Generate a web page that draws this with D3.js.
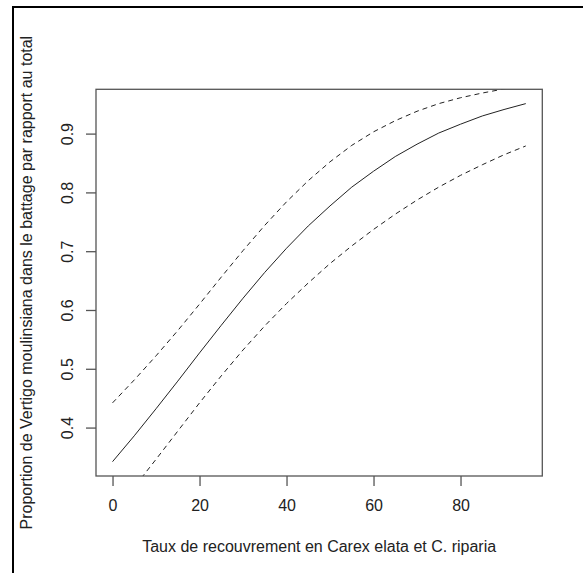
<!DOCTYPE html>
<html>
<head>
<meta charset="utf-8">
<script src="https://cdn.jsdelivr.net/npm/d3@7"></script>
<style>
  body { margin: 0; background: #fff; }
  svg { display: block; font-family: "Liberation Sans", Arial, sans-serif; }
</style>
</head>
<body>
<div id="chart"></div>
<script>
// values (cover %, predicted proportion and its band)
const cover = [0, 5, 10, 15, 20, 25, 30, 35, 40, 45, 50, 55, 60, 65, 70, 75, 80, 85, 90, 95];
const fitted = [0.342, 0.386, 0.432, 0.479, 0.527, 0.574, 0.620, 0.664, 0.705, 0.743,
                0.777, 0.809, 0.836, 0.861, 0.882, 0.901, 0.916, 0.930, 0.941, 0.951];
const upper = [0.442, 0.481, 0.522, 0.565, 0.610, 0.656, 0.701, 0.744, 0.784, 0.820,
               0.852, 0.880, 0.903, 0.922, 0.938, 0.951, 0.961, 0.969, 0.976, 0.981];
const lower = [0.255, 0.299, 0.346, 0.394, 0.442, 0.488, 0.532, 0.573, 0.611, 0.646,
               0.679, 0.709, 0.737, 0.763, 0.787, 0.809, 0.829, 0.847, 0.864, 0.879];
const xTicks = [0, 20, 40, 60, 80];
const yTicks = [0.4, 0.5, 0.6, 0.7, 0.8, 0.9];

const W = 583, H = 573;
const plot = { left: 96, right: 542.3, top: 89.3, bottom: 476 };

const svg = d3.select("#chart")
    .append("svg")
    .attr("width", W)
    .attr("height", H);

// R style 4% padding around the fitted line range
const xPad = (d3.max(cover) - d3.min(cover)) * 0.04;
const yPad = (d3.max(fitted) - d3.min(fitted)) * 0.04;

const x = d3.scaleLinear()
    .domain([d3.min(cover) - xPad, d3.max(cover) + xPad])
    .range([plot.left, plot.right]);

const y = d3.scaleLinear()
    .domain([d3.min(fitted) - yPad, d3.max(fitted) + yPad])
    .range([plot.bottom, plot.top]);

// frame of the screenshot: left and top edges only
svg.append("path")
    .attr("d", `M13,${H} L13,7 L${W},7`)
    .attr("fill", "none")
    .attr("stroke", "#000")
    .attr("stroke-width", 2);

svg.append("clipPath")
    .attr("id", "plot-clip")
    .append("rect")
    .attr("x", plot.left)
    .attr("y", plot.top)
    .attr("width", plot.right - plot.left)
    .attr("height", plot.bottom - plot.top);

const line = d3.line()
    .x(d => x(d[0]))
    .y(d => y(d[1]));

const curves = svg.append("g").attr("clip-path", "url(#plot-clip)");

curves.append("path")
    .datum(d3.zip(cover, fitted))
    .attr("d", line)
    .attr("fill", "none")
    .attr("stroke", "#222")
    .attr("stroke-width", 1);

[upper, lower].forEach(band => {
    curves.append("path")
        .datum(d3.zip(cover, band))
        .attr("d", line)
        .attr("fill", "none")
        .attr("stroke", "#222")
        .attr("stroke-width", 1)
        .attr("stroke-dasharray", "5,4");
});

// box
svg.append("rect")
    .attr("x", plot.left)
    .attr("y", plot.top)
    .attr("width", plot.right - plot.left)
    .attr("height", plot.bottom - plot.top)
    .attr("fill", "none")
    .attr("stroke", "#555")
    .attr("stroke-width", 1.3);

const xAxis = svg.append("g")
    .attr("class", "x-axis")
    .attr("transform", `translate(0,${plot.bottom})`)
    .call(d3.axisBottom(x).tickValues(xTicks).tickSize(10).tickPadding(0).tickFormat(d3.format("d")));

const yAxis = svg.append("g")
    .attr("class", "y-axis")
    .attr("transform", `translate(${plot.left},0)`)
    .call(d3.axisLeft(y).tickValues(yTicks).tickSize(10).tickFormat(d3.format(".1f")));

svg.selectAll(".x-axis path, .y-axis path").remove();
svg.selectAll(".x-axis line, .y-axis line")
    .attr("stroke", "#555")
    .attr("stroke-width", 1.3);

svg.selectAll(".x-axis text")
    .attr("y", 35)
    .attr("dy", null)
    .attr("fill", "#222")
    .style("font-size", "16px")
    .style("font-family", "Liberation Sans, Arial, sans-serif");

// R draws y tick labels parallel to the axis
svg.selectAll(".y-axis text")
    .attr("x", null)
    .attr("dy", null)
    .attr("transform", "translate(-23.5,0) rotate(-90)")
    .attr("text-anchor", "middle")
    .attr("fill", "#222")
    .style("font-size", "16px")
    .style("font-family", "Liberation Sans, Arial, sans-serif");

svg.append("text")
    .attr("x", (plot.left + plot.right) / 2)
    .attr("y", 552)
    .attr("text-anchor", "middle")
    .attr("fill", "#222")
    .style("font-size", "16px")
    .text("Taux de recouvrement en Carex elata et C. riparia");

svg.append("text")
    .attr("transform", `translate(32,${(plot.top + plot.bottom) / 2}) rotate(-90)`)
    .attr("text-anchor", "middle")
    .attr("fill", "#222")
    .style("font-size", "16px")
    .text("Proportion de Vertigo moulinsiana dans le battage par rapport au total");
</script>
</body>
</html>
